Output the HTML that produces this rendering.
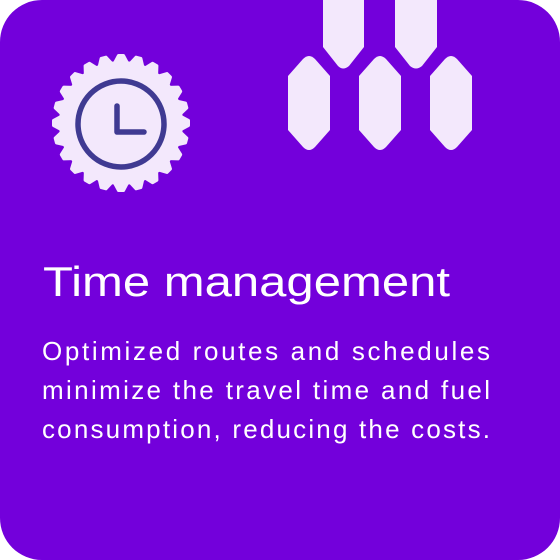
<!DOCTYPE html>
<html><head><meta charset="utf-8"><style>
html,body{margin:0;padding:0;background:#fff;}
svg{display:block;}
</style></head><body>
<svg width="560" height="560" viewBox="0 0 560 560" xmlns="http://www.w3.org/2000/svg">
<rect x="0" y="0" width="560" height="560" rx="42" fill="#7300DB"/>
<g fill="#F3E8FC">
<path d="M323,0 H364 V47 L349,66 Q343,71 338,66 L323,47 Z"/>
<path d="M395,0 H437 V47 L422,66 Q416,71 410,66 L395,47 Z"/>
<path d="M288,76 L303,59 Q309,53 315,59 L330,76 V130 L315,147 Q309,153 303,147 L288,130 Z"/>
<path d="M359,76 L374,59 Q380,53 386,59 L401,76 V130 L386,147 Q380,153 374,147 L359,130 Z"/>
<path d="M430,76 L445,59 Q451,53 457,59 L472,76 V130 L457,147 Q451,153 445,147 L430,130 Z"/>
<circle cx="121" cy="123" r="62"/>
</g>
<defs>
<polygon id="t" points="114.5,63 118.5,55.5 123.5,55.5 127.5,63" fill="#F3E8FC" stroke="#F3E8FC" stroke-width="3" stroke-linejoin="round"/>
</defs>
<use href="#t"/>
<use href="#t" transform="rotate(15 121 123)"/>
<use href="#t" transform="rotate(30 121 123)"/>
<use href="#t" transform="rotate(45 121 123)"/>
<use href="#t" transform="rotate(60 121 123)"/>
<use href="#t" transform="rotate(75 121 123)"/>
<use href="#t" transform="rotate(90 121 123)"/>
<use href="#t" transform="rotate(105 121 123)"/>
<use href="#t" transform="rotate(120 121 123)"/>
<use href="#t" transform="rotate(135 121 123)"/>
<use href="#t" transform="rotate(150 121 123)"/>
<use href="#t" transform="rotate(165 121 123)"/>
<use href="#t" transform="rotate(180 121 123)"/>
<use href="#t" transform="rotate(195 121 123)"/>
<use href="#t" transform="rotate(210 121 123)"/>
<use href="#t" transform="rotate(225 121 123)"/>
<use href="#t" transform="rotate(240 121 123)"/>
<use href="#t" transform="rotate(255 121 123)"/>
<use href="#t" transform="rotate(270 121 123)"/>
<use href="#t" transform="rotate(285 121 123)"/>
<use href="#t" transform="rotate(300 121 123)"/>
<use href="#t" transform="rotate(315 121 123)"/>
<use href="#t" transform="rotate(330 121 123)"/>
<use href="#t" transform="rotate(345 121 123)"/>
<circle cx="121" cy="124" r="43" fill="none" stroke="#3F3A92" stroke-width="5.5"/>
<path d="M117,106 V132 H144" fill="none" stroke="#3F3A92" stroke-width="5.5" stroke-linecap="round" stroke-linejoin="round"/>
<g fill="#fff" font-family="Liberation Sans, sans-serif">
<text x="43" y="296" font-size="42" textLength="407" lengthAdjust="spacingAndGlyphs">Time management</text>
<text x="42" y="360" font-size="26" textLength="448" lengthAdjust="spacing">Optimized routes and schedules</text>
<text x="42" y="399" font-size="26" textLength="448" lengthAdjust="spacing">minimize the travel time and fuel</text>
<text x="42" y="438" font-size="26" textLength="448" lengthAdjust="spacing">consumption, reducing the costs.</text>
</g>
</svg>
</body></html>
